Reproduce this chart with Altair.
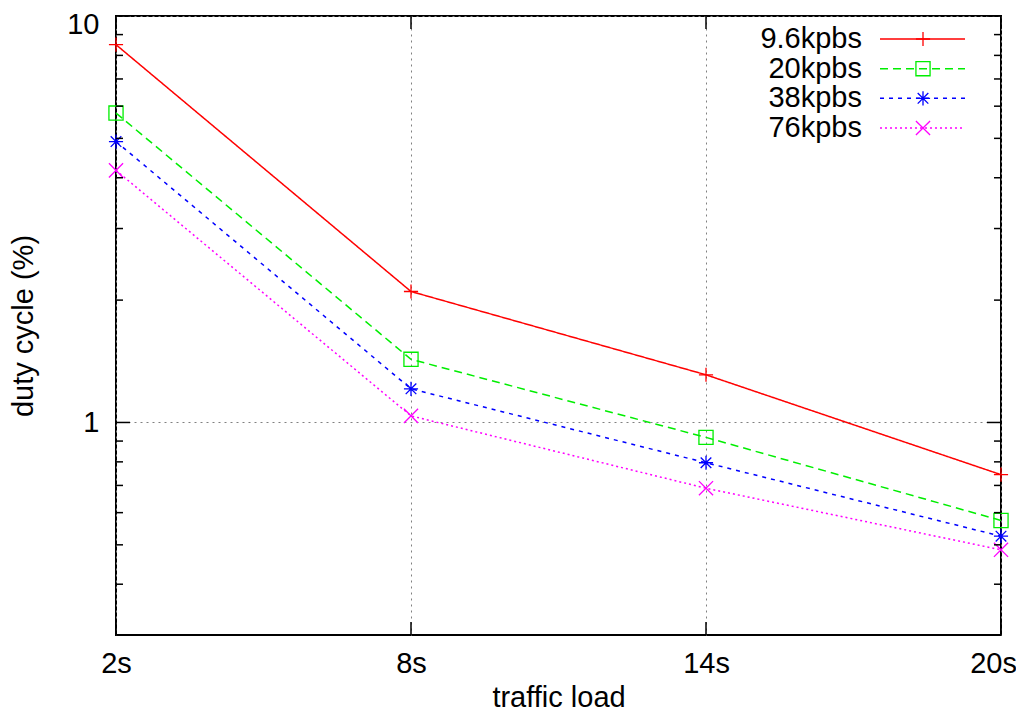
import altair as alt
import pandas as pd

# ---- data ----
loads = [2, 8, 14, 20]            # traffic load (s)
series = ["9.6kpbs", "20kpbs", "38kpbs", "76kpbs"]
duty_96 = [8.50, 2.10, 1.31, 0.744]
duty_20 = [5.77, 1.43, 0.919, 0.574]
duty_38 = [4.91, 1.21, 0.796, 0.525]
duty_76 = [4.17, 1.038, 0.689, 0.486]
y_labels = [1, 10]
y_minor = [0.3, 0.4, 0.5, 0.6, 0.7, 0.8, 0.9, 2, 3, 4, 5, 6, 7, 8, 9]
y_major = [1, 10]

colors = ["#ff0000", "#00ee00", "#0000ff", "#ff00ff"]
dashes = [[1, 0], [8, 5], [4, 5], [2, 3]]
shapes = [
    "M-1,0L1,0M0,-1L0,1",
    "square",
    "M-1,0L1,0M0,-1L0,1M-0.75,-0.75L0.75,0.75M-0.75,0.75L0.75,-0.75",
    "M-1,-1L1,1M-1,1L1,-1",
]

rows = []
for name, vals in zip(series, [duty_96, duty_20, duty_38, duty_76]):
    for x, v in zip(loads, vals):
        rows.append({"load": x, "duty": v, "series": name})
df = pd.DataFrame(rows)

W, H = 885, 619
FONT = "Liberation Sans"
FS = 29

xscale = alt.Scale(domain=[2, 20], nice=False, zero=False)
yscale = alt.Scale(type="log", domain=[0.3, 10], nice=False)
cscale = alt.Scale(domain=series, range=colors)
dscale = alt.Scale(domain=series, range=dashes)
sscale = alt.Scale(domain=series, range=shapes)

x_axis = alt.Axis(values=loads, labelExpr="datum.value + 's'", title="traffic load",
                  grid=True, gridDash=[2, 4], gridColor="#808080", gridWidth=1,
                  ticks=False, domain=False, labelFont=FONT, labelFontSize=FS,
                  labelColor="black", labelPadding=14, titleFont=FONT,
                  titleFontSize=FS, titleFontWeight="normal", titleColor="black",
                  titlePadding=5, labelFlush=False,
                  labelOffset={"condition": {"test": "datum.value == 20", "value": -8}, "value": 0})
y_axis = alt.Axis(values=y_labels, format="d", title="duty cycle (%)",
                  grid=True, gridDash=[2, 4], gridColor="#808080", gridWidth=1,
                  ticks=False, domain=False, labelFont=FONT, labelFontSize=FS,
                  labelColor="black", labelPadding=17, titleFont=FONT,
                  titleFontSize=FS, titleFontWeight="normal", titleColor="black",
                  titlePadding=28, labelFlush=False,
                  labelOffset={"condition": {"test": "datum.value == 10", "value": 8}, "value": 0})

base = alt.Chart(df)

lines = base.mark_line(strokeWidth=1.5, clip=False).encode(
    x=alt.X("load:Q", scale=xscale, axis=x_axis),
    y=alt.Y("duty:Q", scale=yscale, axis=y_axis),
    color=alt.Color("series:N", scale=cscale, legend=None),
    strokeDash=alt.StrokeDash("series:N", scale=dscale, legend=None),
)

points = base.mark_point(filled=False, size=200, strokeWidth=1.3, opacity=1, clip=False).encode(
    x=alt.X("load:Q", scale=xscale, axis=x_axis),
    y=alt.Y("duty:Q", scale=yscale, axis=None),
    color=alt.Color("series:N", scale=cscale, legend=None),
    shape=alt.Shape("series:N", scale=sscale, legend=None),
)

# inward ticks (gnuplot style)
minor_df = pd.DataFrame({"duty": y_minor})
major_df = pd.DataFrame({"duty": y_major})
xt_df = pd.DataFrame({"load": loads})

def ytick(dfr, x0, x1):
    return alt.Chart(dfr).mark_rule(color="black", strokeWidth=1.5).encode(
        y=alt.Y("duty:Q", scale=yscale, axis=None),
        x=alt.value(x0), x2=alt.value(x1))

ticks = [
    ytick(minor_df, 0, 7), ytick(minor_df, W, W - 7),
    ytick(major_df, 0, 14), ytick(major_df, W, W - 14),
    alt.Chart(xt_df).mark_rule(color="black", strokeWidth=1.5).encode(
        x=alt.X("load:Q", scale=xscale, axis=x_axis), y=alt.value(H), y2=alt.value(H - 13)),
    alt.Chart(xt_df).mark_rule(color="black", strokeWidth=1.5).encode(
        x=alt.X("load:Q", scale=xscale, axis=x_axis), y=alt.value(0), y2=alt.value(13)),
]

# legend in gnuplot style (label, then line sample)
leg_df = pd.DataFrame({"series": series})
leg_y = alt.Y("series:N", scale=alt.Scale(type="point", domain=series, range=[23, 112], padding=0), axis=None)
leg_text = alt.Chart(leg_df).mark_text(align="right", baseline="middle", font=FONT, fontSize=FS,
                                       color="black").encode(
    y=leg_y, x=alt.value(746), text="series:N")
leg_line = alt.Chart(leg_df).mark_rule(strokeWidth=1.5).encode(
    y=leg_y, x=alt.value(764), x2=alt.value(849),
    color=alt.Color("series:N", scale=cscale, legend=None),
    strokeDash=alt.StrokeDash("series:N", scale=dscale, legend=None))
leg_pt = alt.Chart(leg_df).mark_point(filled=False, size=200, strokeWidth=1.3, opacity=1).encode(
    y=leg_y, x=alt.value(807),
    color=alt.Color("series:N", scale=cscale, legend=None),
    shape=alt.Shape("series:N", scale=sscale, legend=None))

chart = alt.layer(lines, points, *ticks, leg_line, leg_pt, leg_text).resolve_scale(
    y="independent"
).properties(
    width=W, height=H,
    autosize=alt.AutoSizeParams(type="none"),
    padding={"left": 108, "top": 8, "right": 15, "bottom": 77},
).configure_view(stroke="black", strokeWidth=2)

chart.save("out.html", embed_options={"renderer": "svg", "actions": False})
